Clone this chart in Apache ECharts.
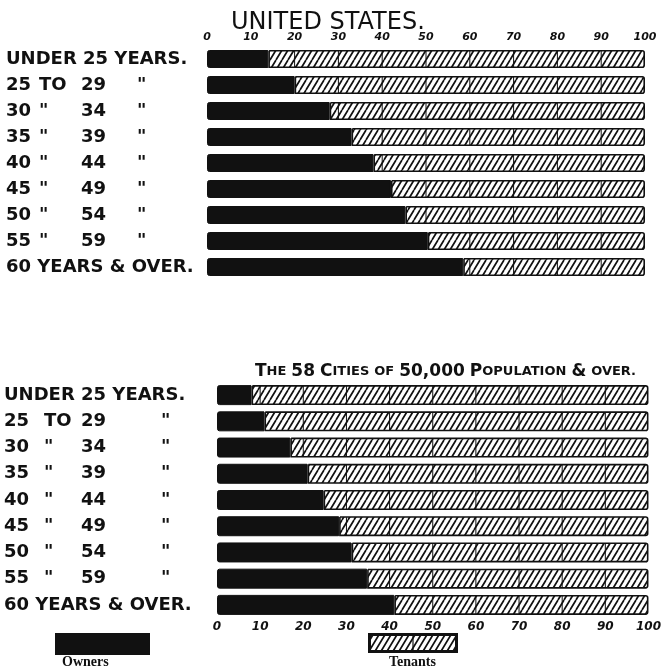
<!DOCTYPE html>
<html>
<head>
<meta charset="utf-8">
<title>Owners and tenants by age</title>
<script src="https://cdn.jsdelivr.net/npm/echarts@6/dist/echarts.min.js"></script>
<style>
  html, body { margin: 0; padding: 0; background: #fff; }
  #chart { width: 664px; height: 672px; }
</style>
</head>
<body>
<div id="chart"></div>
<script>
// 数据
var ageLabels = ['UNDER 25 YEARS.', '25|TO|29|"', '30|"|34|"', '35|"|39|"', '40|"|44|"',
                 '45|"|49|"', '50|"|54|"', '55|"|59|"', '60 YEARS & OVER.'];
var tickValues = [0, 10, 20, 30, 40, 50, 60, 70, 80, 90, 100];

// United States
var usOwners  = [14, 20, 28, 33, 38, 42, 45.3, 50.4, 58.5];
var usTenants = [86, 80, 72, 67, 62, 58, 54.7, 49.6, 41.5];

// The 58 cities of 50,000 population & over
var cityOwners  = [8, 11, 17, 21, 24.7, 28.3, 31.2, 34.8, 41.1];
var cityTenants = [92, 89, 83, 79, 75.3, 71.7, 68.8, 65.2, 58.9];

var ink = '#111';
var labelFont = 'DejaVu Sans';

// 斜线
function drawHatch(ctx, w, h, step, slope) {
    ctx.strokeStyle = ink;
    ctx.lineWidth = 1.7;
    ctx.beginPath();
    for (var x = -h / slope; x < w + step; x += step) {
        ctx.moveTo(x, h);
        ctx.lineTo(x + h / slope, 0);
    }
    ctx.stroke();
}

// 斜线填充
function hatchPattern() {
    var w = 6, h = 10;
    var c = document.createElement('canvas');
    c.width = w; c.height = h;
    var ctx = c.getContext('2d');
    ctx.fillStyle = '#fff';
    ctx.fillRect(0, 0, w, h);
    drawHatch(ctx, w, h, w, h / w);
    return c;
}
var hatch = { image: hatchPattern(), repeat: 'repeat' };

// 图例图标 (斜线框)
function hatchIcon(w, h) {
    var c = document.createElement('canvas');
    c.width = w; c.height = h;
    var ctx = c.getContext('2d');
    ctx.fillStyle = '#fff';
    ctx.fillRect(0, 0, w, h);
    drawHatch(ctx, w, h, 6, 10 / 6);
    ctx.lineWidth = 1.2;
    ctx.beginPath();
    ctx.moveTo(w / 2, 0); ctx.lineTo(w / 2, h);
    ctx.stroke();
    ctx.lineWidth = 3;
    ctx.strokeRect(1.5, 1.5, w - 3, h - 3);
    return c.toDataURL();
}

// 分隔线 (只画在斜线部分内)
function gridLines(barH) {
    return function (params, api) {
        var own = api.value(0), idx = api.value(1);
        var children = [];
        for (var k = 1; k < tickValues.length - 1; k++) {
            var t = tickValues[k];
            if (t <= own + 0.5) continue;
            var p = api.coord([t, idx]);
            children.push({
                type: 'line',
                shape: { x1: p[0], y1: p[1] - barH / 2 + 1, x2: p[0], y2: p[1] + barH / 2 - 1 },
                style: { stroke: ink, lineWidth: 1 }
            });
        }
        return { type: 'group', children: children };
    };
}

function rowLabel(value) {
    var parts = value.split('|');
    if (parts.length < 4) return '{w|' + value + '}';
    return '{a|' + parts[0] + '}{b|' + parts[1] + '}{c|' + parts[2] + '}{d|' + parts[3] + '}';
}

function richCols(w) {
    var base = { fontFamily: labelFont, fontWeight: 'bold', fontSize: 18, color: ink, align: 'left' };
    return {
        w: Object.assign({}, base),
        a: Object.assign({}, base, { width: w[0] }),
        b: Object.assign({}, base, { width: w[1] }),
        c: Object.assign({}, base, { width: w[2] }),
        d: Object.assign({}, base)
    };
}

function valueAxis(gridIndex, position, fontSize) {
    return {
        gridIndex: gridIndex,
        type: 'value',
        position: position,
        min: 0, max: 100, interval: 10,
        axisLine: { show: false },
        axisTick: { show: false },
        splitLine: { show: false },
        axisLabel: {
            margin: 3,
            color: ink,
            fontFamily: labelFont,
            fontWeight: 'bold',
            fontStyle: 'italic',
            fontSize: fontSize
        }
    };
}

function categoryAxis(gridIndex, margin, cols) {
    return {
        gridIndex: gridIndex,
        type: 'category',
        inverse: true,
        data: ageLabels,
        axisLine: { show: false },
        axisTick: { show: false },
        axisLabel: {
            align: 'left',
            margin: margin,
            formatter: rowLabel,
            rich: richCols(cols)
        }
    };
}

var myChart = echarts.init(document.getElementById('chart'));

var option = {
    backgroundColor: '#fff',
    animation: false,
    title: [
        {
            text: 'UNITED STATES.',
            left: 226, top: 6,
            textStyle: { fontFamily: labelFont, fontWeight: 'normal', fontSize: 24, color: ink }
        },
        {
            text: '{b|T}{s|HE} {b|58} {b|C}{s|ITIES} {s|OF} {b|50,000} {b|P}{s|OPULATION} {b|&} {s|OVER.}',
            left: 250, top: 358,
            textStyle: {
                rich: {
                    b: { fontFamily: labelFont, fontWeight: 'bold', fontSize: 17, color: ink },
                    s: { fontFamily: labelFont, fontWeight: 'bold', fontSize: 13, color: ink }
                }
            }
        }
    ],
    legend: [
        {
            data: [{ name: 'Owners', icon: 'rect', itemStyle: { color: ink } }], left: 50, top: 628,
            itemWidth: 93, itemHeight: 20, selectedMode: false,
            formatter: function () { return ''; }
        },
        {
            data: [{ name: 'Tenants', icon: 'image://' + hatchIcon(90, 20) }],
            left: 363, top: 628,
            itemWidth: 90, itemHeight: 20, selectedMode: false,
            formatter: function () { return ''; }
        }
    ],
    graphic: [
        { type: 'text', left: 62, top: 655, z: 100, style: { text: 'Owners', font: 'bold 14px "Liberation Serif"', fill: ink } },
        { type: 'text', left: 389, top: 655, z: 100, style: { text: 'Tenants', font: 'bold 14px "Liberation Serif"', fill: ink } }
    ],
    grid: [
        { left: 207, width: 438, top: 46, height: 234 },
        { left: 217, width: 438, top: 382, height: 236 }
    ],
    xAxis: [ valueAxis(0, 'top', 11), valueAxis(1, 'bottom', 12) ],
    yAxis: [ categoryAxis(0, 201, [33, 42, 56]), categoryAxis(1, 213, [40, 37, 80]) ],
    series: [
        {
            name: 'Owners', type: 'bar', stack: 'us', xAxisIndex: 0, yAxisIndex: 0,
            barWidth: 18, data: usOwners,
            itemStyle: { color: ink, borderColor: ink, borderWidth: 1, borderRadius: [2, 0, 0, 2] }
        },
        {
            name: 'Tenants', type: 'bar', stack: 'us', xAxisIndex: 0, yAxisIndex: 0,
            barWidth: 18, data: usTenants,
            itemStyle: { color: hatch, borderColor: ink, borderWidth: 1.6, borderRadius: [0, 2, 2, 0] }
        },
        {
            type: 'custom', xAxisIndex: 0, yAxisIndex: 0, z: 5,
            renderItem: gridLines(18),
            data: usOwners.map(function (v, i) { return [v, i]; })
        },
        {
            name: 'Owners', type: 'bar', stack: 'cities', xAxisIndex: 1, yAxisIndex: 1,
            barWidth: 20, data: cityOwners,
            itemStyle: { color: ink, borderColor: ink, borderWidth: 1, borderRadius: [2, 0, 0, 2] }
        },
        {
            name: 'Tenants', type: 'bar', stack: 'cities', xAxisIndex: 1, yAxisIndex: 1,
            barWidth: 20, data: cityTenants,
            itemStyle: { color: hatch, borderColor: ink, borderWidth: 1.6, borderRadius: [0, 2, 2, 0] }
        },
        {
            type: 'custom', xAxisIndex: 1, yAxisIndex: 1, z: 5,
            renderItem: gridLines(20),
            data: cityOwners.map(function (v, i) { return [v, i]; })
        }
    ]
};

myChart.setOption(option);
</script>
</body>
</html>
